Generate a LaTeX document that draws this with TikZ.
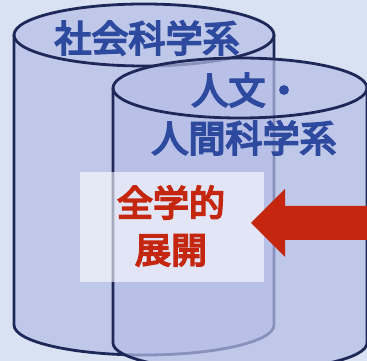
\documentclass[tikz,border=0pt]{standalone}
\usepackage{fontspec}
\newfontfamily\jp{Noto Sans CJK JP}[FakeBold=5]
\definecolor{bgc}{HTML}{D9E2F2}
\definecolor{cylA}{HTML}{C0C8EA}
\definecolor{cylB}{HTML}{B5BEE6}
\definecolor{edge}{HTML}{1E2858}
\definecolor{bluetxt}{HTML}{2D4A9E}
\definecolor{redc}{HTML}{C4260F}
\tikzset{
  outline/.style={draw=edge, line width=2.8pt},
  bluelabel/.style={text=bluetxt, font=\jp\fontsize{37}{48}\selectfont, align=center, inner sep=0pt},
  redlabel/.style={text=redc, font=\jp\fontsize{36}{47}\selectfont, align=center, inner sep=0pt},
}
\begin{document}
\begin{tikzpicture}[x=1pt,y=1pt]
\useasboundingbox (0,0) rectangle (367,361);
\fill[bgc] (0,0) rectangle (367,361);
% cylinder 1
\fill[cylA] (14,326) -- (14,36) arc[start angle=180,end angle=360,x radius=130,y radius=30] -- (274,326)
  arc[start angle=0,end angle=180,x radius=130,y radius=31] -- cycle;
\draw[outline] (14,326) -- (14,36) arc[start angle=180,end angle=360,x radius=130,y radius=30] -- (274,326);
\draw[outline] (144,326) ellipse[x radius=130,y radius=31];
% cylinder 2
\fill[cylB, fill opacity=0.7] (113,273) -- (113,18) arc[start angle=180,end angle=360,x radius=127,y radius=28] -- (367,273)
  arc[start angle=0,end angle=180,x radius=127,y radius=30] -- cycle;
\draw[outline] (113,273) -- (113,18) arc[start angle=180,end angle=360,x radius=127,y radius=28] -- (367,273);
\draw[outline] (240,273) ellipse[x radius=127,y radius=30];
% box
\fill[white, fill opacity=0.6] (80,79) rectangle (264,189);
% arrow
\fill[redc] (367,155) -- (285,155) -- (285,172) -- (251,138) -- (285,104) -- (285,121) -- (367,121) -- cycle;
% labels
\node[bluelabel] (soc) at (147,323) {社会科学系};
\node[bluelabel] (hum) at (244,247) {\hspace*{6pt}人文・\\人間科学系};
\node[redlabel] (zen) at (171,135) {全学的\\展開};
\end{tikzpicture}
\end{document}
